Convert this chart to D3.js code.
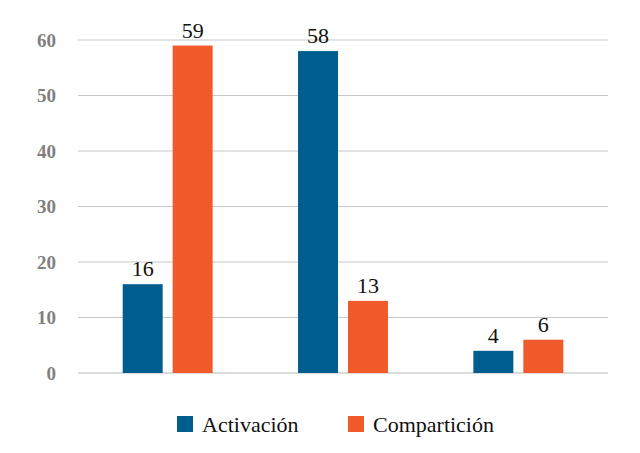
<!DOCTYPE html>
<html>
<head>
  <meta charset="utf-8">
  <script src="https://d3js.org/d3.v7.min.js"></script>
  <style>
    body { margin: 0; background: #fff; }
    text { font-family: "Liberation Serif", "Times New Roman", "DejaVu Serif", serif; }
  </style>
</head>
<body>
  <div id="chart"></div>
  <script>
    var groups = ["A", "B", "C"];
    var series = ["Activación", "Compartición"];
    var activacion = [16, 58, 4];
    var comparticion = [59, 13, 6];
    var yTicks = [0, 10, 20, 30, 40, 50, 60];
    var colors = ["#005e8f", "#f15a2b"];

    var width = 640, height = 453;
    var margin = { top: 40, right: 34, bottom: 80, left: 80 };

    var svg = d3.select("#chart")
      .append("svg")
      .attr("width", width)
      .attr("height", height);

    var x0 = d3.scaleBand()
      .domain(groups)
      .range([margin.left, width - margin.right])
      .paddingInner(0.487)
      .paddingOuter(0.2435);

    var x1 = d3.scaleBand()
      .domain(series)
      .range([0, x0.bandwidth()])
      .paddingInner(0.2);

    var y = d3.scaleLinear()
      .domain([0, 60])
      .range([373, 40]);

    // gridlines
    svg.append("g")
      .selectAll("line")
      .data(yTicks)
      .enter()
      .append("line")
      .attr("x1", 78)
      .attr("x2", 608)
      .attr("y1", function (d) { return y(d); })
      .attr("y2", function (d) { return y(d); })
      .attr("stroke", function (d) { return d === 0 ? "#dcdcdc" : "#c8c8c8"; })
      .attr("stroke-width", function (d) { return d === 0 ? 2 : 1.2; });

    // y tick labels
    svg.append("g")
      .selectAll("text")
      .data(yTicks)
      .enter()
      .append("text")
      .attr("x", 56)
      .attr("y", function (d) { return y(d); })
      .attr("dy", "0.35em")
      .attr("text-anchor", "end")
      .attr("font-weight", "bold")
      .attr("font-size", 19)
      .attr("fill", "#808080")
      .text(function (d) { return d; });

    var data = groups.map(function (g, i) {
      return [
        { group: g, key: series[0], value: activacion[i], color: colors[0] },
        { group: g, key: series[1], value: comparticion[i], color: colors[1] }
      ];
    });

    var gGroups = svg.append("g")
      .selectAll("g")
      .data(data)
      .enter()
      .append("g")
      .attr("transform", function (d) { return "translate(" + x0(d[0].group) + ",0)"; });

    gGroups.selectAll("rect")
      .data(function (d) { return d; })
      .enter()
      .append("rect")
      .attr("x", function (d) { return x1(d.key); })
      .attr("width", x1.bandwidth())
      .attr("y", function (d) { return y(d.value); })
      .attr("height", function (d) { return y(0) - y(d.value); })
      .attr("fill", function (d) { return d.color; });

    gGroups.selectAll("text")
      .data(function (d) { return d; })
      .enter()
      .append("text")
      .attr("x", function (d) { return x1(d.key) + x1.bandwidth() / 2; })
      .attr("y", function (d) { return y(d.value) - 8; })
      .attr("text-anchor", "middle")
      .attr("font-size", 22)
      .attr("fill", "#111")
      .text(function (d) { return d.value; });

    // legend
    var legendX = [177, 348];
    var legend = svg.append("g")
      .selectAll("g")
      .data(series)
      .enter()
      .append("g")
      .attr("transform", function (d, i) { return "translate(" + legendX[i] + ",416)"; });

    legend.append("rect")
      .attr("width", 16)
      .attr("height", 16)
      .attr("fill", function (d, i) { return colors[i]; });

    legend.append("text")
      .attr("x", 25)
      .attr("y", 16)
      .attr("font-size", 22)
      .attr("fill", "#111")
      .text(function (d) { return d; });
  </script>
</body>
</html>
